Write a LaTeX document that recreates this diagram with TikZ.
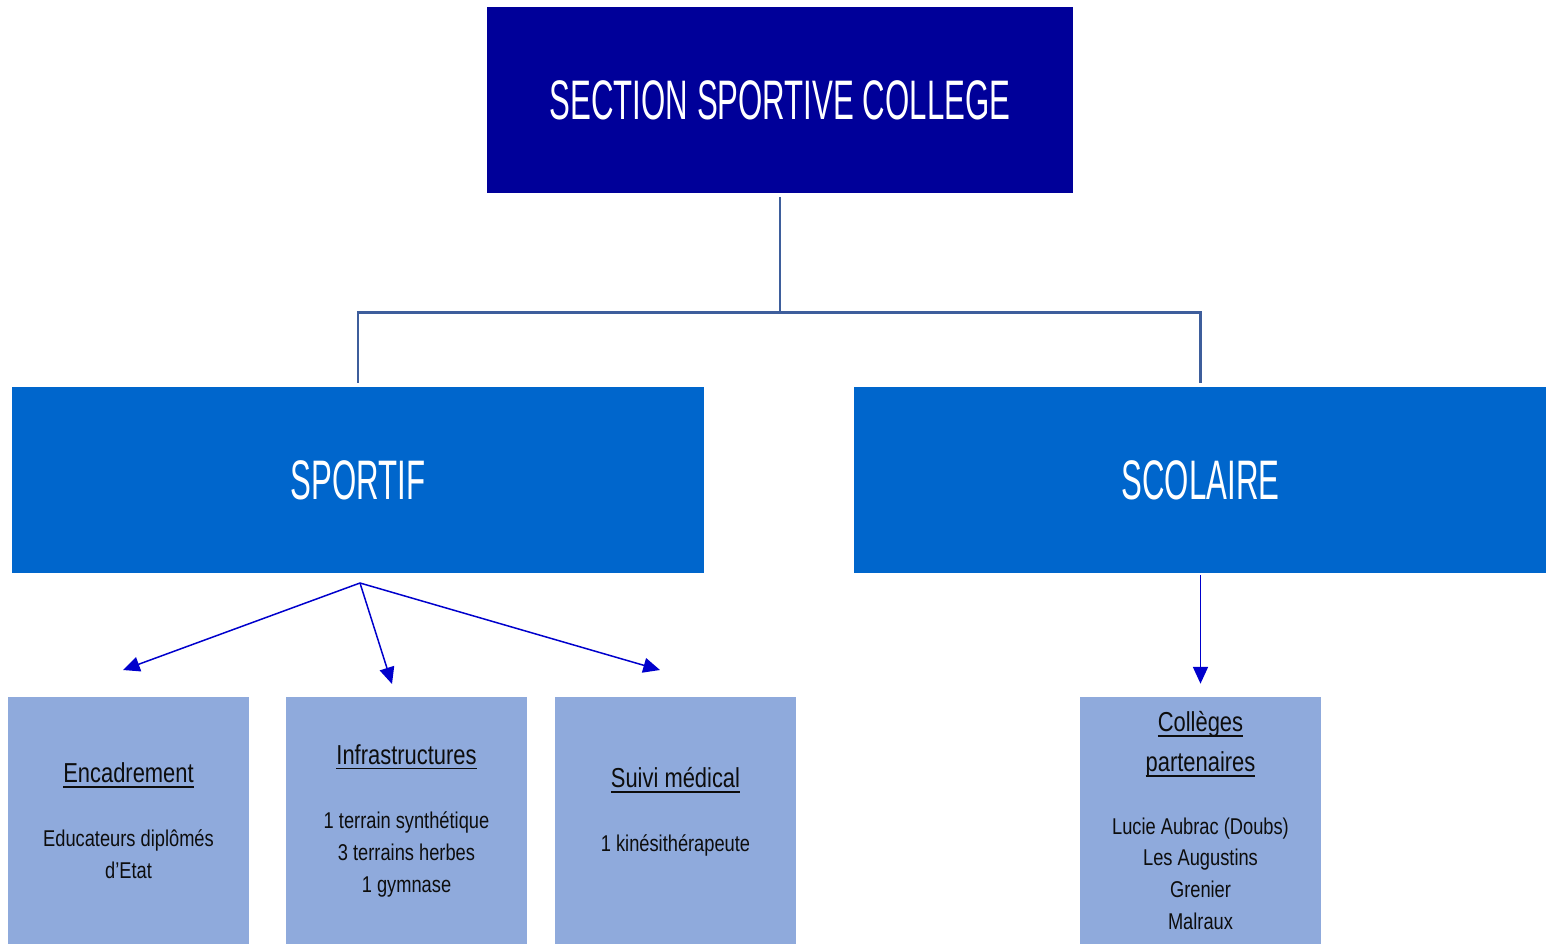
\documentclass[tikz,border=0pt]{standalone}
\usepackage{fontspec}
\usetikzlibrary{arrows.meta}
\setmainfont{Liberation Sans}[FakeStretch=0.8]
\newfontfamily\capsfont{Liberation Sans}[FakeStretch=0.56]

\definecolor{navy}{RGB}{0,0,153}
\definecolor{mainblue}{RGB}{0,102,204}
\definecolor{paleblue}{RGB}{143,170,220}
\definecolor{treeline}{RGB}{62,94,156}
\definecolor{arrowblue}{RGB}{0,0,204}

% underlined heading line
\newcommand{\headline}[1]{{\fontsize{15.6}{18.1}\selectfont
  \setbox0\hbox{#1}\rlap{\rule[-3pt]{\wd0}{0.8pt}}\box0}}

\begin{document}
\begin{tikzpicture}[x=0.02cm,y=-0.02cm,
    titlebox/.style={fill=navy,text=white,inner sep=0pt,
      minimum width=11.72cm,minimum height=3.72cm,
      font=\capsfont\fontsize{31.7}{38}\selectfont},
    mainbox/.style={fill=mainblue,text=white,inner sep=0pt,
      minimum width=13.86cm,minimum height=3.72cm,
      font=\capsfont\fontsize{31.7}{38}\selectfont},
    subbox/.style={fill=paleblue,text=black!95,inner sep=0pt,align=center,
      minimum width=4.82cm,minimum height=4.94cm,
      font=\fontsize{13}{18.1}\selectfont},
    tree/.style={draw=treeline,line width=1.4pt},
    fleche/.style={draw=arrowblue,line width=0.85pt,
      -{Triangle[length=9.5pt,width=8.5pt]}}]
  \useasboundingbox (0,0) rectangle (1546,944);

  % title and the two branches
  \node[titlebox] (title) at (780,100) {SECTION SPORTIVE COLLEGE};
  \node[mainbox] (sportif) at (358,480) {SPORTIF};
  \node[mainbox] (scolaire) at (1200.5,480) {SCOLAIRE};

  \draw[tree,shorten <=2pt] (title.south) -- ++(0,119) coordinate (fork);
  \draw[tree,shorten >=2pt] (fork) -| (sportif.north);
  \draw[tree,shorten >=2pt] (fork) -| (scolaire.north);

  % boxes below
  \node[subbox] (encadrement) at (128.5,820.5)
    {\headline{Encadrement}\\[18.5pt]
     Educateurs diplômés\\ d’Etat};
  \node[subbox] (infra) at (406.5,820.5)
    {\headline{Infrastructures}\\[18.5pt]
     1 terrain synthétique\\ 3 terrains herbes\\ 1 gymnase};
  \node[subbox] (medical) at (675.5,820.5)
    {\headline{Suivi médical}\\[18.5pt]
     1 kinésithérapeute\\[-5.7pt]\mbox{}};
  \node[subbox] (colleges) at (1200.5,820.5)
    {\headline{Collèges}\\[4.6pt] \headline{partenaires}\\[17.6pt]
     Lucie Aubrac (Doubs)\\ Les Augustins\\ Grenier\\ Malraux};

  % arrows
  \coordinate (hub) at (360,583);
  \coordinate (to-enc) at (123,670);
  \coordinate (to-infra) at (392,684);
  \coordinate (to-med) at (660,670);
  \draw[fleche] (hub) -- (to-enc);
  \draw[fleche] (hub) -- (to-infra);
  \draw[fleche] (hub) -- (to-med);
  \draw[fleche] ([yshift=-1pt]scolaire.south) -- ([yshift=7.4pt]colleges.north);
\end{tikzpicture}
\end{document}
